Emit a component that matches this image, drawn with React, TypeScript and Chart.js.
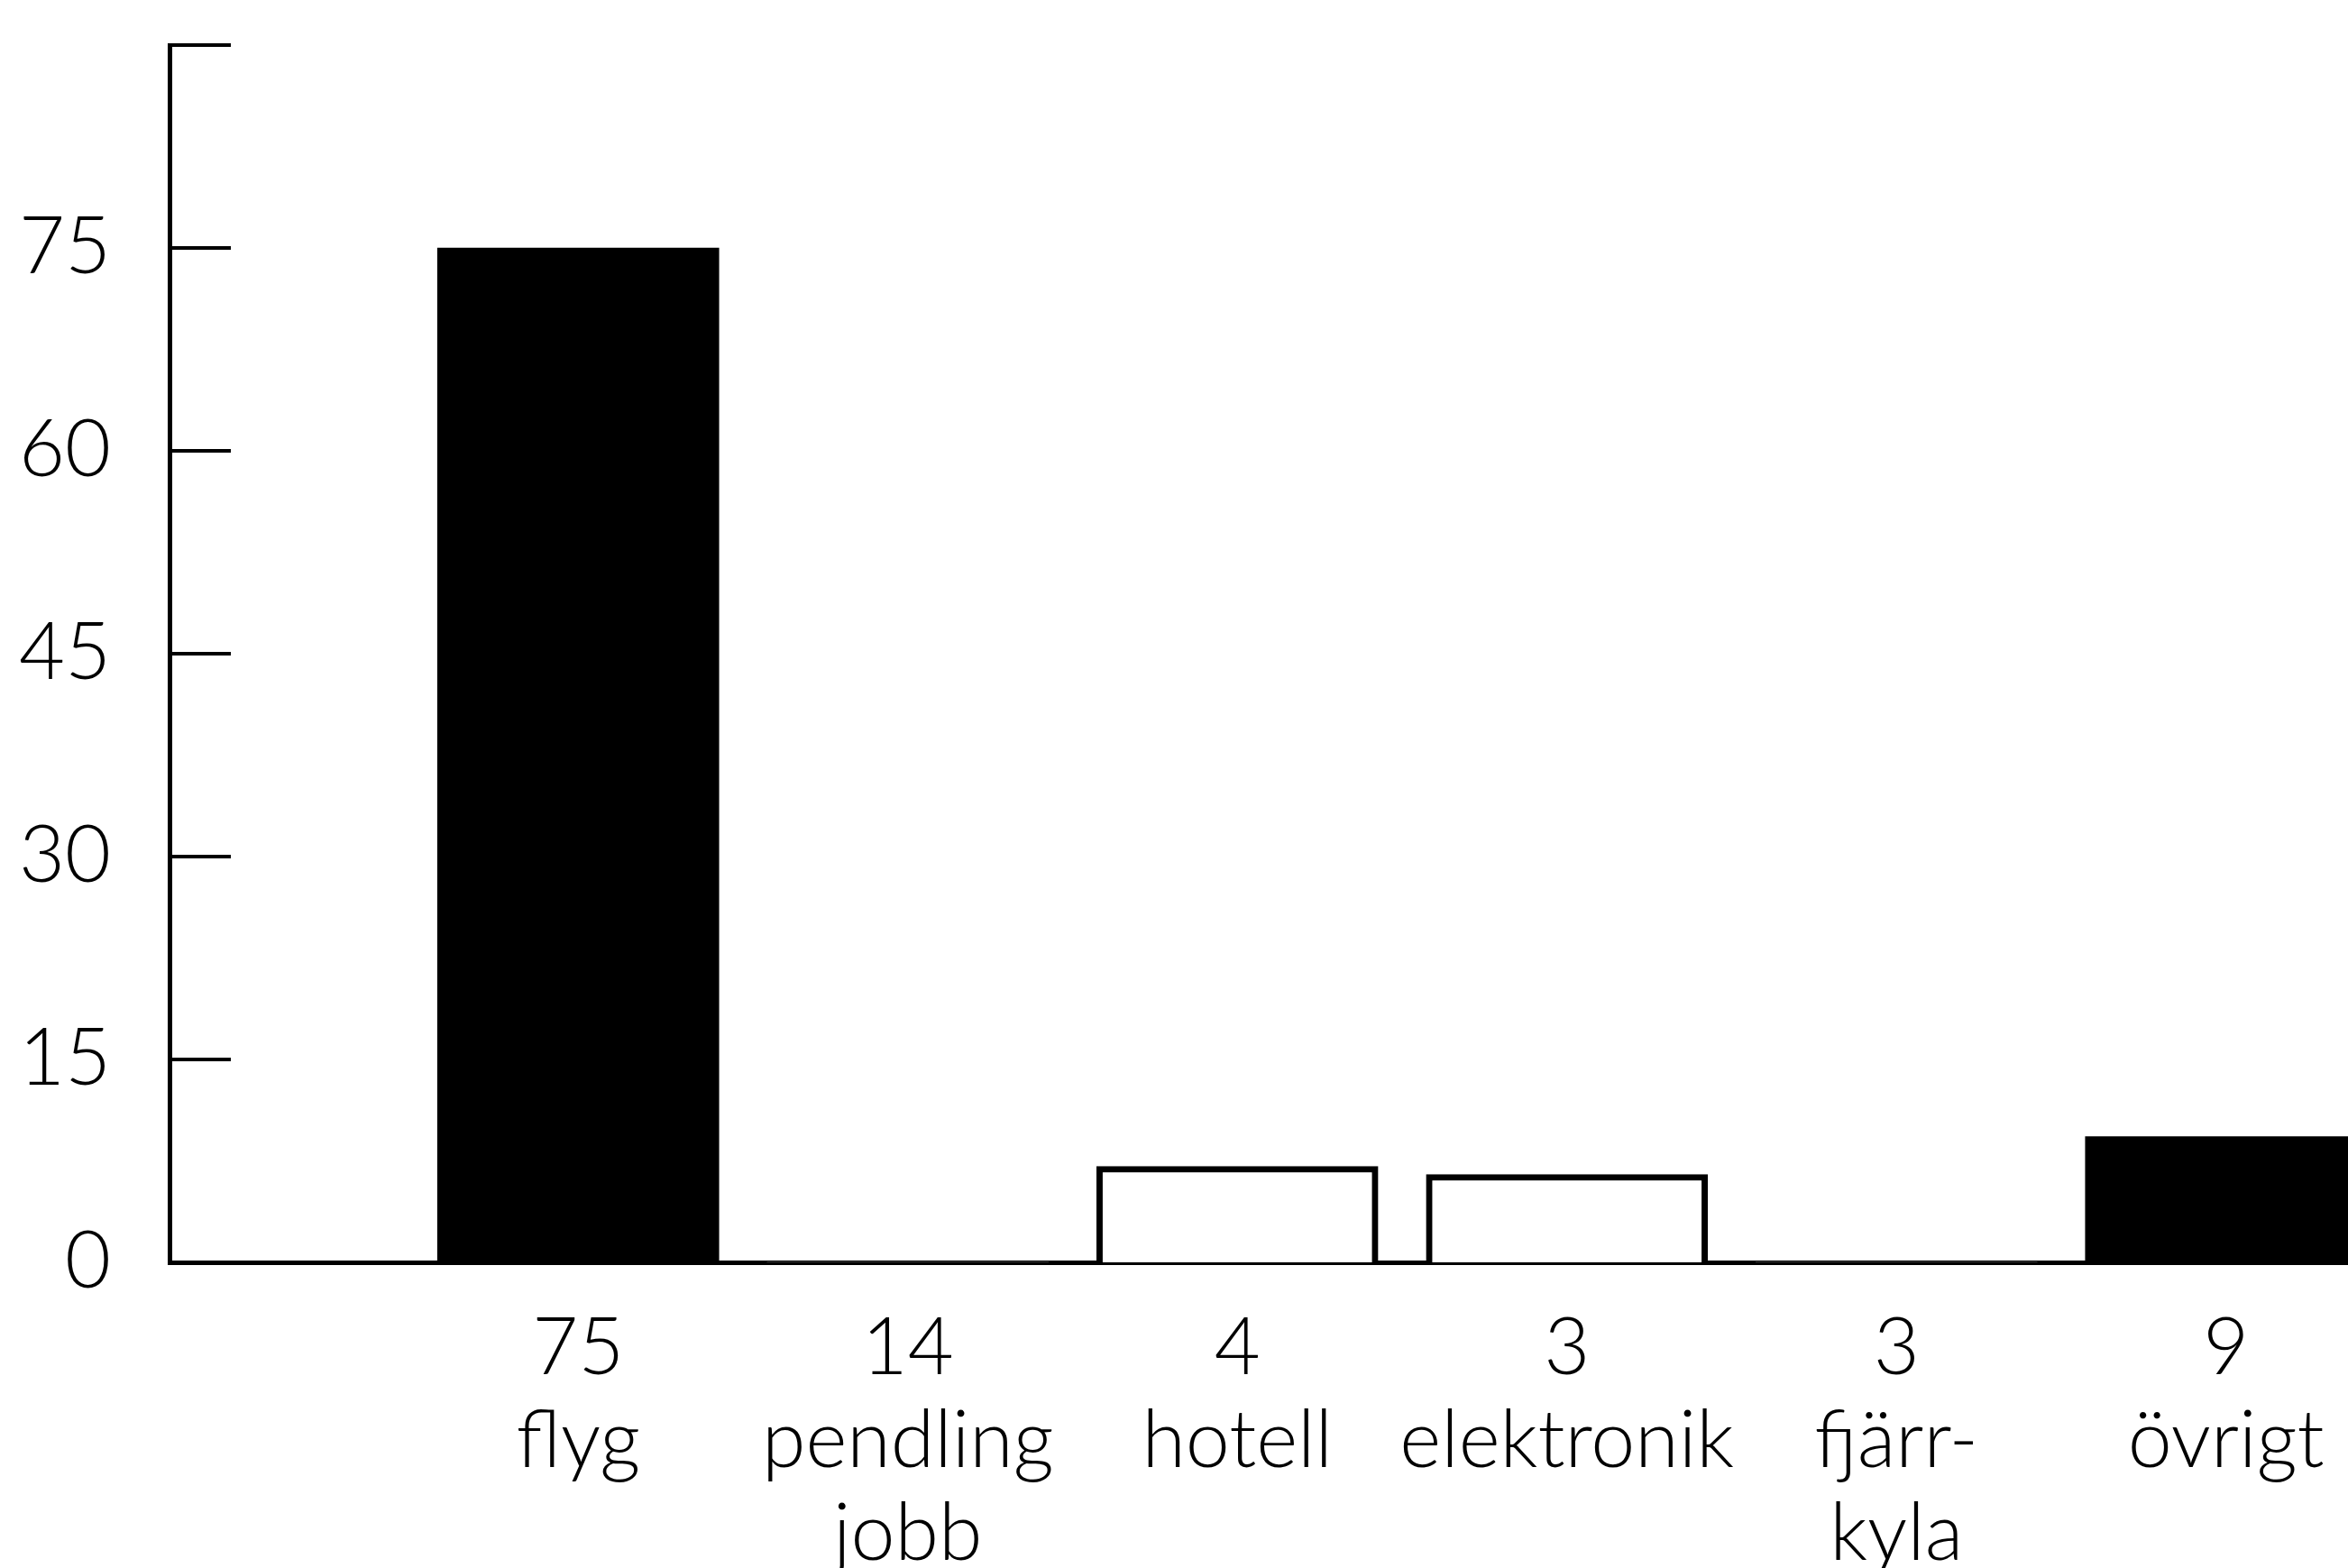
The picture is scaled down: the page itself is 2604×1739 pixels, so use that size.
import React, { useEffect, useRef } from 'react';
import Chart from 'chart.js/auto';

const categoryNames: string[][] = [
  ['flyg'],
  ['pendling', 'jobb'],
  ['hotell'],
  ['elektronik'],
  ['fjärr-', 'kyla'],
  ['övrigt'],
];
const statedValues: string[] = ['75', '14', '4', '3', '3', '9'];
const barValues: number[] = [75, 0, 7.1, 6.5, 0, 9.3];
const yTickValues: number[] = [0, 15, 30, 45, 60, 75, 90];
const yLabelled: number[] = [0, 15, 30, 45, 60, 75];

const SOLID = new Set([0, 5]);

const inwardTicks = {
  id: 'inwardTicks',
  afterDatasetsDraw(chart: any) {
    const { ctx, chartArea } = chart;
    const ys = chart.scales.y;
    ctx.save();
    ctx.strokeStyle = '#000';
    ctx.lineWidth = 4;
    ys.ticks.forEach((t: any) => {
      if (t.value === 0) return;
      const py = ys.getPixelForValue(t.value);
      ctx.beginPath();
      ctx.moveTo(chartArea.left, py);
      ctx.lineTo(chartArea.left + 68, py);
      ctx.stroke();
    });
    ctx.restore();
  },
};

export default function App() {
  const ref = useRef<HTMLCanvasElement | null>(null);
  useEffect(() => {
    if (!ref.current) return;
    const font = { family: 'Lato', size: 88, weight: '300', lineHeight: 1.17 };
    const chart = new Chart(ref.current, {
      type: 'bar',
      data: {
        datasets: [
          {
            data: barValues.map((v, i) => ({ x: i, y: v })),
            backgroundColor: (c: any) => (SOLID.has(c.dataIndex) ? '#000' : '#fff'),
            borderColor: '#000',
            borderWidth: (c: any) => (SOLID.has(c.dataIndex) || barValues[c.dataIndex] === 0 ? 0 : 7),
            borderSkipped: 'bottom',
            barThickness: 312,
          } as any,
        ],
      },
      options: {
        animation: false,
        responsive: false,
        devicePixelRatio: 1,
        layout: { padding: { top: 50, left: 0, right: 0, bottom: 0 } },
        plugins: { legend: { display: false }, tooltip: { enabled: false } },
        scales: {
          x: {
            type: 'linear',
            offset: false,
            min: -1.24,
            max: 5.37,
            grid: { display: false, offset: false },
            border: { display: true, color: '#000', width: 5 },
            afterBuildTicks: (s: any) => {
              s.ticks = statedValues.map((_, i) => ({ value: i }));
            },
            afterFit: (s: any) => {
              s.height = 339;
              s.paddingLeft = 0;
              s.paddingRight = 0;
            },
            ticks: {
              autoSkip: false,
              maxRotation: 0,
              padding: 36,
              color: '#000',
              font,
              callback: (v: any) => {
                const i = Math.round(Number(v));
                return [statedValues[i], ...categoryNames[i]];
              },
            },
          },
          y: {
            type: 'linear',
            min: 0,
            max: 90,
            grid: { display: false, drawTicks: false },
            border: { display: true, color: '#000', width: 5 },
            afterBuildTicks: (s: any) => {
              s.ticks = yTickValues.map((v) => ({ value: v }));
            },
            afterFit: (s: any) => {
              s.width = 188;
              s.paddingTop = 0;
              s.paddingBottom = 0;
            },
            ticks: {
              autoSkip: false,
              padding: 65,
              color: '#000',
              font,
              callback: (v: any) => (yLabelled.includes(Number(v)) ? String(v) : ''),
            },
          },
        },
      },
      plugins: [inwardTicks],
    } as any);
    return () => chart.destroy();
  }, []);
  return (
    <div style={{ position: 'absolute', left: 0, top: 0, width: 2604, height: 1739, background: '#fff' }}>
      <canvas ref={ref} width={2604} height={1739} style={{ width: 2604, height: 1739, display: 'block' }} />
    </div>
  );
}
